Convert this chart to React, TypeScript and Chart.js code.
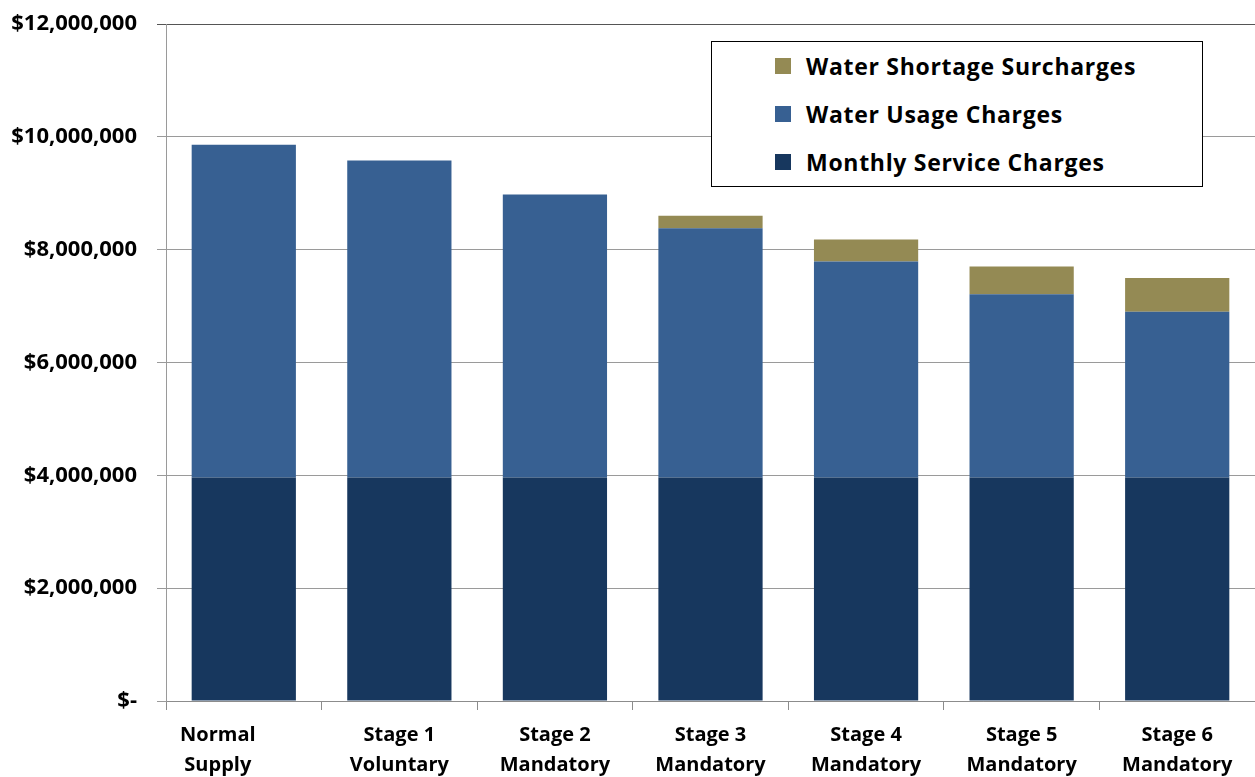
import React, { useEffect, useRef } from "react";
import { Chart, registerables } from "chart.js";

Chart.register(...registerables);

const categories: string[][] = [
  ["Normal", "Supply"],
  ["Stage 1", "Voluntary"],
  ["Stage 2", "Mandatory"],
  ["Stage 3", "Mandatory"],
  ["Stage 4", "Mandatory"],
  ["Stage 5", "Mandatory"],
  ["Stage 6", "Mandatory"],
];

const monthlyServiceCharges = [3960000, 3960000, 3960000, 3960000, 3960000, 3960000, 3960000];
const waterUsageCharges = [5900000, 5620000, 5020000, 4420000, 3830000, 3250000, 2940000];
const waterShortageSurcharges = [0, 0, 0, 220000, 390000, 490000, 600000];

const seriesNames = ["Monthly Service Charges", "Water Usage Charges", "Water Shortage Surcharges"];
const seriesColors = ["#17375E", "#376092", "#948A54"];

const yMin = 0;
const yMax = 12000000;
const yStep = 2000000;

const FONT = "'Open Sans', Lato, sans-serif";

function formatDollar(v: number): string {
  if (v === 0) return "$-";
  return "$" + v.toLocaleString("en-US");
}

export default function App() {
  const canvasRef = useRef<HTMLCanvasElement | null>(null);

  const seriesData = [monthlyServiceCharges, waterUsageCharges, waterShortageSurcharges];

  useEffect(() => {
    document.body.style.margin = "0";
    const canvas = canvasRef.current;
    if (!canvas) return;
    const chart = new Chart(canvas, {
      type: "bar",
      data: {
        labels: categories,
        datasets: seriesNames.map((name, i) => ({
          label: name,
          data: seriesData[i],
          backgroundColor: seriesColors[i],
          borderWidth: 0,
          categoryPercentage: 1,
          barPercentage: 0.67,
        })),
      },
      options: {
        responsive: false,
        animation: false,
        maintainAspectRatio: false,
        layout: { padding: { top: 24, right: 0, left: 0, bottom: 0 } },
        plugins: {
          legend: { display: false },
          tooltip: { enabled: false },
        },
        scales: {
          x: {
            stacked: true,
            offset: true,
            grid: {
              display: true,
              offset: true,
              drawOnChartArea: false,
              drawTicks: true,
              tickLength: 9,
              color: "#8c8c8c",
            },
            border: { display: true, color: "#8c8c8c", width: 1 },
            ticks: {
              color: "#000",
              padding: 10,
              font: { family: FONT, size: 20, weight: "bold", lineHeight: 1.5 },
              maxRotation: 0,
              autoSkip: false,
              callback: function (_v: any, idx: number) {
                const lab = categories[idx];
                if (idx === 0) return lab.map((s) => s + "\u00a0".repeat(10));
                return lab;
              },
            },
            afterFit: (scale: any) => {
              scale.height = 76;
            },
          },
          y: {
            stacked: true,
            min: yMin,
            max: yMax,
            grid: {
              color: (ctx: any) => (ctx.tick && ctx.tick.value === yMax ? "#555" : "#9a9a9a"),
              lineWidth: 1,
              tickLength: 9,
              drawTicks: true,
            },
            border: { display: true, color: "#9a9a9a", width: 1 },
            ticks: {
              stepSize: yStep,
              color: "#000",
              padding: 20,
              font: { family: FONT, size: 22, weight: "bold" },
              callback: (v: any) => formatDollar(Number(v)),
            },
            afterFit: (scale: any) => {
              scale.width = 166;
              scale.paddingTop = 0;
              scale.paddingBottom = 0;
            },
          },
        },
      },
    });
    return () => chart.destroy();
  }, []);

  const legendOrder = [2, 1, 0];

  return (
    <div style={{ position: "absolute", left: 0, top: 0, width: 1255, height: 777, background: "#fff" }}>
      <canvas ref={canvasRef} width={1255} height={777} style={{ width: 1255, height: 777, display: "block" }} />
      <div
        style={{
          position: "absolute",
          left: 711,
          top: 41,
          width: 490,
          height: 144,
          border: "1px solid #000",
          background: "#fff",
          fontFamily: FONT,
          fontWeight: "bold",
          fontSize: 23,
          letterSpacing: "0.7px",
          color: "#000",
          whiteSpace: "nowrap",
        }}
      >
        {legendOrder.map((i) => (
          <div key={i} style={{ height: 48, display: "flex", alignItems: "center", paddingLeft: 63 }}>
            <span style={{ display: "inline-block", width: 16, height: 16, background: seriesColors[i], marginRight: 15, flex: "none" }} />
            <span>{seriesNames[i]}</span>
          </div>
        ))}
      </div>
    </div>
  );
}
